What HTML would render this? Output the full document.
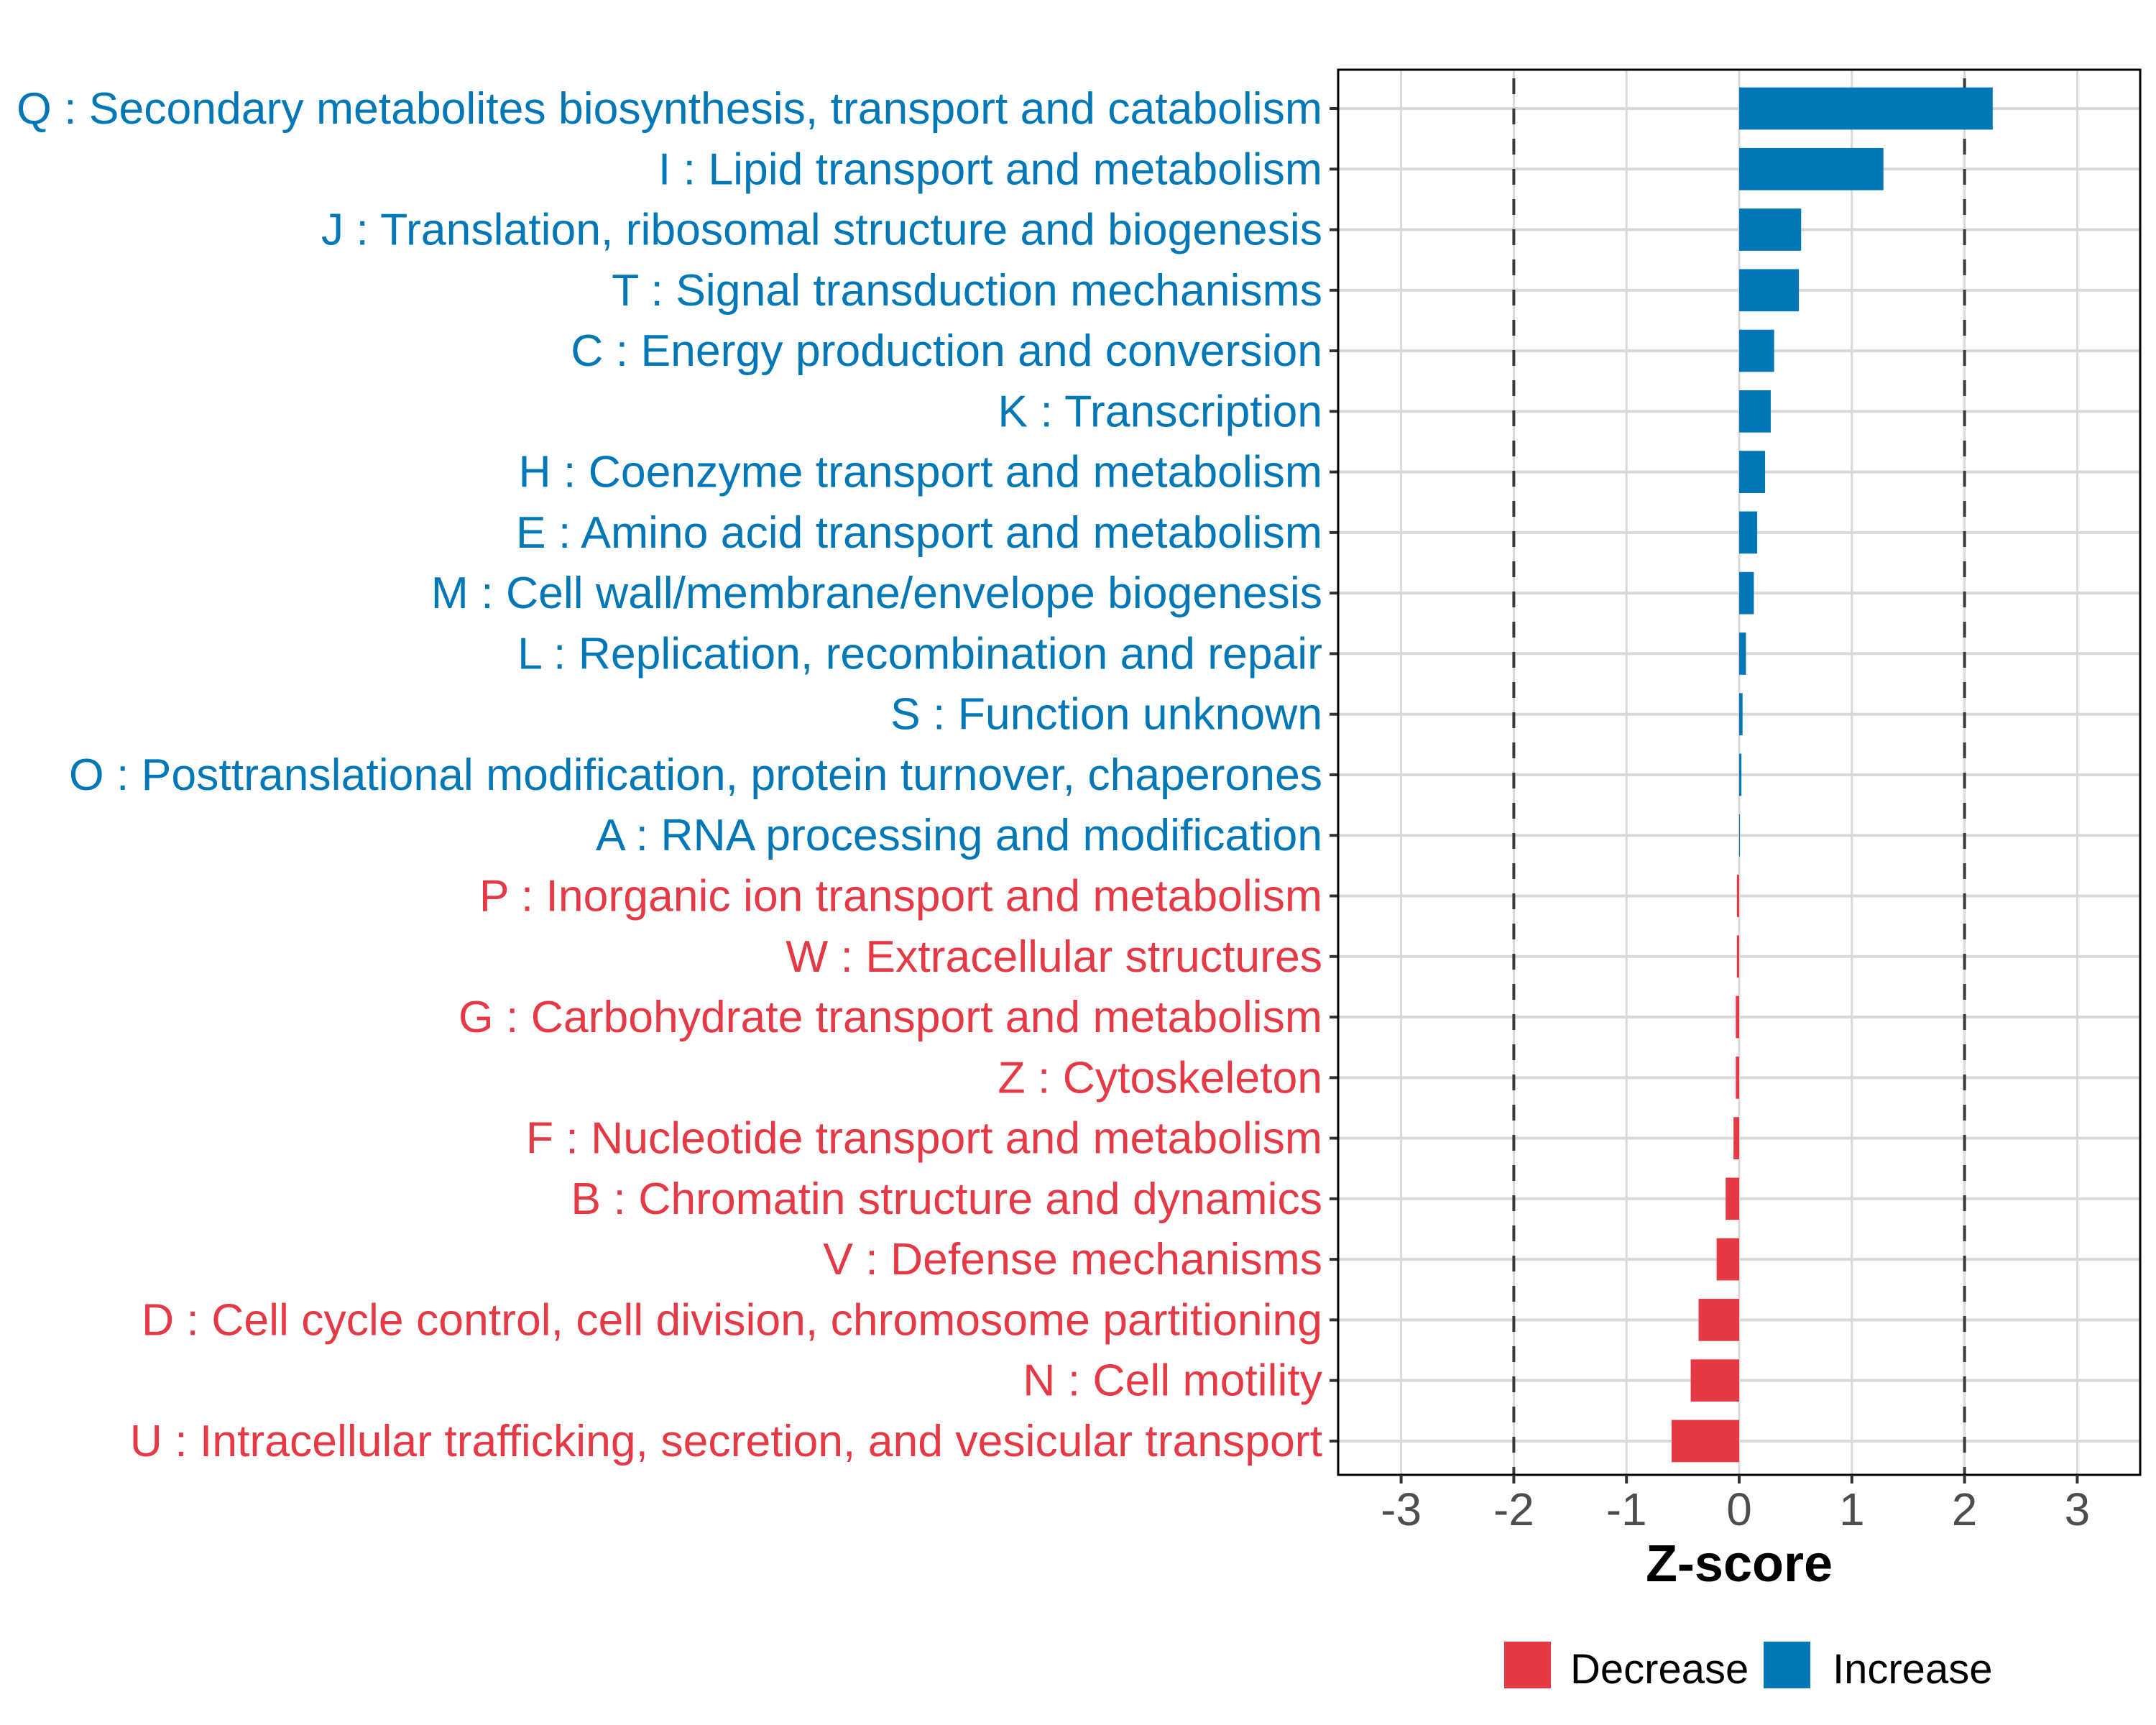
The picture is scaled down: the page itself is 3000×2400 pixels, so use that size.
<!DOCTYPE html>
<html><head><meta charset="utf-8"><style>
html,body{margin:0;padding:0;background:#fff;}
svg{display:block;font-family:"Liberation Sans",Arial,sans-serif;}
</style></head><body>
<svg id="chart" width="3000" height="2400" viewBox="0 0 3000 2400" xmlns="http://www.w3.org/2000/svg">
<rect x="0" y="0" width="3000" height="2400" fill="#fff"/>
<g id="grid"></g><g id="bars"></g><g id="axes"></g><g id="labels"></g>
<g>
<rect x="2093" y="2284" width="65" height="65" fill="#E63946"/>
<text x="2185" y="2342" font-size="58" fill="#000">Decrease</text>
<rect x="2454" y="2284" width="65" height="65" fill="#0077B6"/>
<text x="2550" y="2342" font-size="58" fill="#000">Increase</text>
</g>
<text x="2420" y="2200" font-size="72" font-weight="bold" text-anchor="middle" fill="#000">Z-score</text>
</svg>
<script>
const categories = ["Q : Secondary metabolites biosynthesis, transport and catabolism","I : Lipid transport and metabolism","J : Translation, ribosomal structure and biogenesis","T : Signal transduction mechanisms","C : Energy production and conversion","K : Transcription","H : Coenzyme transport and metabolism","E : Amino acid transport and metabolism","M : Cell wall/membrane/envelope biogenesis","L : Replication, recombination and repair","S : Function unknown","O : Posttranslational modification, protein turnover, chaperones","A : RNA processing and modification","P : Inorganic ion transport and metabolism","W : Extracellular structures","G : Carbohydrate transport and metabolism","Z : Cytoskeleton","F : Nucleotide transport and metabolism","B : Chromatin structure and dynamics","V : Defense mechanisms","D : Cell cycle control, cell division, chromosome partitioning","N : Cell motility","U : Intracellular trafficking, secretion, and vesicular transport"];
const zscores = [2.25,1.28,0.55,0.53,0.31,0.28,0.23,0.16,0.13,0.06,0.03,0.02,0.005,-0.02,-0.02,-0.03,-0.03,-0.05,-0.12,-0.2,-0.36,-0.43,-0.6];
const xTicks = [-3,-2,-1,0,1,2,3];
const thresholds = [-2,2];
const NS="http://www.w3.org/2000/svg";
const PL=1862,PR=2978,PT=97,PB=2052,X0=2420,UNIT=156.8,ROW0=151,ROWSTEP=84.27;
function xs(v){return X0+v*UNIT;}
function ys(i){return ROW0+i*ROWSTEP;}
function mk(tag,attrs,parent){const e=document.createElementNS(NS,tag);for(const k in attrs)e.setAttribute(k,attrs[k]);parent.appendChild(e);return e;}
const grid=document.getElementById('grid'),bars=document.getElementById('bars'),axes=document.getElementById('axes'),labels=document.getElementById('labels');
xTicks.forEach(t=>{const l=mk('line',{x1:xs(t),x2:xs(t),y1:PT,y2:PB,stroke:'#d9d9d9','stroke-width':3},grid);

});
categories.forEach((c,i)=>{const l=mk('line',{x1:PL,x2:PR,y1:ys(i),y2:ys(i),stroke:'#d9d9d9','stroke-width':4},grid);

});
thresholds.forEach(t=>{const l=mk('line',{x1:xs(t),x2:xs(t),y1:PT+12,y2:PB,stroke:'#3a3a3a','stroke-width':4,'stroke-dasharray':'22 20'},grid);

});
const BH=58.7;
categories.forEach((c,i)=>{const v=zscores[i];const col=v>=0?'#0077B6':'#E63946';
const x=Math.min(xs(0),xs(v)),w=Math.max(Math.abs(xs(v)-xs(0)),1);
const r=mk('rect',{x:x,y:ys(i)-BH/2,width:w,height:BH,fill:col},bars);


const t=mk('text',{x:1840,y:ys(i)+21,'font-size':62.5,'text-anchor':'end',fill:col},labels);t.textContent=c;


const tk=mk('line',{x1:PL-12,x2:PL,y1:ys(i),y2:ys(i),stroke:'#333','stroke-width':4},axes);

});
const frame=mk('rect',{x:PL,y:PT,width:PR-PL,height:PB-PT,fill:'none',stroke:'#000','stroke-width':3},axes);


xTicks.forEach(t=>{const tk=mk('line',{x1:xs(t),x2:xs(t),y1:PB,y2:PB+12,stroke:'#333','stroke-width':4},axes);


const lb=mk('text',{x:xs(t),y:2122,'font-size':64,'text-anchor':'middle',fill:'#4d4d4d'},axes);lb.textContent=String(t);

});
</script>
</body></html>
